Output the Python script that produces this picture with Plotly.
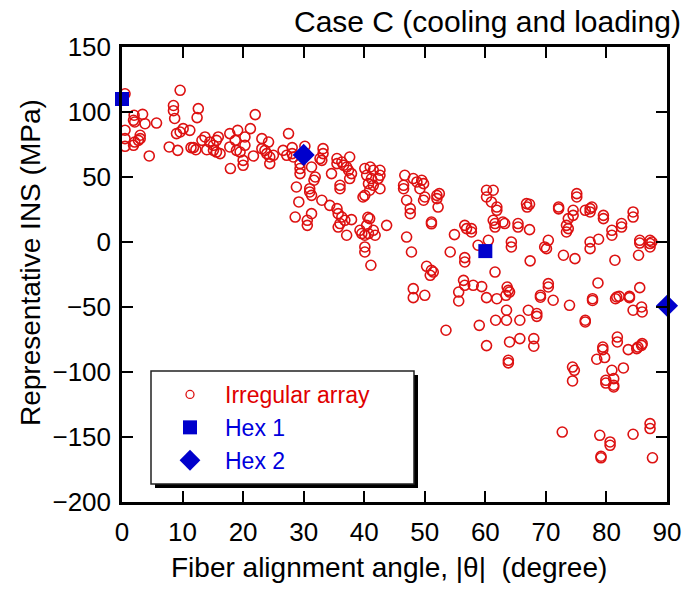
import plotly.graph_objects as go

# ---------------- data ----------------
irr_x = [0.5, 9.6, 8.5, 8.5, 12.6, 8.7, 12.4,
         2.0, 1.9, 2.1, 3.4, 3.8, 5.7,
         0.5, 0.5, 0.5,
         1.9, 2.7, 3.0, 3.0, 2.1,
         4.5, 7.8, 9.2,
         9.0, 9.6, 10.1, 11.2,
         11.4, 11.8, 12.2,
         13.2, 13.7, 14.0, 14.5, 15.1, 15.6, 15.9, 15.6, 16.2, 15.1,
         17.8, 19.1, 18.7, 20.3, 18.9, 19.5, 17.8, 20.3, 20.0, 20.0, 17.9,
         22.0, 21.2, 21.7,
         23.1, 24.2, 23.1, 23.6, 24.4, 25.0, 24.4, 23.9,
         27.5, 26.6, 27.2, 28.1, 28.3, 28.1,
         30.2,
         29.4, 29.4, 29.4, 28.8, 29.2, 28.6, 30.6, 30.6,
         33.2, 33.2, 32.7, 33.0, 31.3, 31.9, 31.7, 31.0, 31.0, 31.3, 31.3,
         35.5, 35.5, 36.3, 36.6, 37.1, 37.6, 37.4, 37.9, 37.6, 34.6, 36.0, 36.0,
         33.0, 34.3, 35.5, 35.7, 36.3, 36.8, 37.9, 36.0, 35.7, 37.1,
         40.1, 41.0, 41.5, 42.6, 40.4, 41.2, 42.3, 42.6, 40.7, 41.5, 42.6, 40.9, 40.1, 39.8,
         40.9, 40.4, 39.3, 39.6, 40.7, 41.5, 41.8, 40.1, 43.7, 40.6,
         40.1, 40.1, 41.1,
         47.0, 47.8,
         46.7, 46.5, 46.5, 47.0, 47.6, 47.6,
         48.1, 48.7, 49.5, 49.8, 49.2, 50.0, 49.8,
         51.1, 51.1,
         52.0, 52.4, 52.0, 52.2,
         54.9, 56.6, 56.9, 57.7, 57.7,
         54.2, 56.6, 56.6,
         50.3, 51.1, 50.9, 51.4,
         48.1, 48.1, 50.0,
         56.4, 56.6, 58.0, 59.4, 55.6, 55.6, 60.2,
         53.5, 59.0, 60.2,
         58.8,
         60.2, 60.2, 61.3, 61.0, 61.9, 61.9,
         61.3, 61.6, 61.6, 62.9, 63.2,
         60.5,
         64.3, 64.3,
         65.4, 65.4, 67.3,
         66.8, 67.3, 66.9,
         69.8, 70.4, 70.1,
         67.4,
         72.1, 72.1,
         73.7, 73.4, 73.4, 73.7, 74.5, 74.5,
         75.1, 75.1,
         72.9, 74.8,
         76.5, 77.3, 77.6, 77.3,
         77.3, 77.3, 78.7,
         79.5, 79.5,
         80.9, 80.9, 82.5, 82.5,
         84.4, 84.4,
         81.4,
         85.5, 85.5, 87.2, 87.2, 87.5, 87.2, 85.3,
         61.6,
         61.9, 63.4, 63.6, 63.8, 64.0,
         61.7, 63.5, 63.5, 65.7,
         64.0, 63.8, 63.8,
         65.7, 67.1, 68.5, 68.5, 68.0, 68.0,
         69.1, 69.1, 70.4, 70.4, 71.2, 73.9,
         76.5, 76.5,
         74.4, 74.7, 74.4,
         72.7,
         77.7, 77.7, 78.6,
         78.9, 79.1, 79.1, 80.6, 80.6,
         79.4, 79.4, 79.7, 78.4,
         80.9, 79.9, 79.9, 81.2, 81.2, 81.2,
         82.8,
         81.5, 81.7, 82.1, 83.8, 83.8,
         85.5,
         84.4, 85.8, 85.9,
         81.8, 81.8,
         83.6, 85.0, 85.2, 85.9, 85.8,
         84.4,
         87.2, 87.2,
         87.6]

irr_y = [114, 116.7, 105, 101, 102.6, 95, 95.7,
         97.5, 93.6, 92.3, 98.2, 91, 91.5,
         86, 79.5, 73.6,
         74.4, 78.2, 82.1, 79.5, 76.9,
         66.2, 73.1, 70.5,
         83.4, 84.6, 87.2, 85.9,
         72.6, 72.6, 71,
         78.2, 80.8, 71, 76.9, 74.4, 78.2, 80.8, 69.2, 68, 70.5,
         83.4, 85.9, 78.2, 80.8, 70.5, 69.2, 73.1, 74.4, 62.8, 59, 56.5,
         98, 87.2, 66.2,
         79.5, 76.9, 71.8, 70.5, 65.4, 66.7, 60.3, 68,
         83.4, 70.5, 66.7, 72.6, 65.4, 68,
         73.6,
         60.3, 56.5, 52.6, 42.3, 30.8, 19.2, 16.7, 12.8,
         71.8, 68, 64.2, 62.8, 57.7, 50, 47.5, 41, 38.5, 35.9, 21.8,
         64.2, 60.3, 61.5, 59, 57.7, 65.4, 55.2, 52.6, 48.8, 52.6, 43.6, 41,
         32.1, 28.2, 25.7, 21.8, 19.2, 16.7, 17.2, 14.2, 11.5, 5.2,
         56.5, 57.7, 55.2, 55.2, 51.3, 48.8, 48.8, 51.3, 44.9, 43.6, 41, 39.8, 35.9, 34.6,
         18, 12.8, 9, 6.5, 6.5, 9, 5.2, 5.2, 12.8, 19,
         -3.8, -7.7, -17.9,
         3.8, -7.7,
         51.3, 43.6, 41, 32.1, 25.7, 21.8,
         48.8, 46.2, 47.5, 44.9, 41, 34.6, 32.1,
         15.4, 14.0,
         35.9, 37.2, 33.4, 26.9,
         5.7, 12.8, 10.3, 10.3, 7.7,
         -7.7, -12.0, -15.4,
         -18.7, -21.8, -25.6, -23.1,
         -35.9, -42.8, -41,
         -29.5, -33.3, -33.3, -34.3, -38.5, -45.4, -42.8,
         -67.9, -64.1, -79.7,
         -2.5,
         39.8, 34.6, 39.8, 30.8, 26.9, 24.4,
         16.7, 14.2, 11.5, 15.4, 14.2,
         1.3,
         0, -3.8,
         14.2, 11.5, 9.5,
         29.5, 29, 26.9,
         -3.8, 1.3, -5.1,
         -14.5,
         26.9, 25.5,
         18, 12.8, 7.7, 10.3, 24.4, 20.5,
         37.2, 34.6,
         -10.2, -12.8,
         24.4, 25.7, 26.9, 23.1,
         0, -5.1, 2.1,
         20.5, 18,
         9, 5.2, 14.2, 11.5,
         23.1, 19.2,
         -14,
         1.3, -0.8, 1.3, -1.2, 0, -3.8, -10.2,
         -23.1,
         -43.6, -41, -34.6, -37.2, -38.5,
         -60.2, -52.5, -60.2, -60.2,
         -76.9, -91, -93,
         -74.3, -52.5, -55, -57.2, -74.3, -80.2,
         -41, -42.5, -32, -34.6, -44.8, -48.7,
         -60.2, -61.5,
         -96.2, -98.7, -106.9,
         -146.2,
         -43.6, -45, -31.5,
         -148.7, -164.8, -166, -153.8, -156.4,
         -80.8, -82.8, -88.9, -90.2,
         -98.7, -106.4, -108.5, -105.1, -110.2, -111.5,
         -96.9,
         -43.6, -42.3, -41.8, -41.8, -42.8,
         -35.1,
         -52.5, -50, -53.8,
         -73.1, -76.9,
         -82.8, -82, -80.8, -78.2, -79.5,
         -147.9,
         -139.7, -143.5,
         -166]

hex1_x = [0, 60]
hex1_y = [110, -7]
hex2_x = [30, 90]
hex2_y = [67, -49]

x_ticks = [0, 10, 20, 30, 40, 50, 60, 70, 80, 90]
y_ticks = [-200, -150, -100, -50, 0, 50, 100, 150]

RED = "#dd1111"
BLUE = "#0000cc"
FONT = "Liberation Sans, Arial, sans-serif"

# plot area in page pixels (page body margin is removed by the post script)
W, H = 686, 590
PL, PR, PT, PB = 122, 667, 47, 502
PW, PH = PR - PL, PB - PT


def px(xw):  # page x -> paper
    return (xw - PL) / PW


def py(yw):  # page y -> paper
    return (PB - yw) / PH


fig = go.Figure()

fig.add_trace(go.Scatter(
    x=irr_x, y=irr_y, mode="markers", showlegend=False,
    marker=dict(symbol="circle-open", size=10, color=RED, line=dict(width=1.6, color=RED)),
    cliponaxis=False))
fig.add_trace(go.Scatter(
    x=hex1_x, y=hex1_y, mode="markers", showlegend=False,
    marker=dict(symbol="square", size=14, color=BLUE), cliponaxis=False))
fig.add_trace(go.Scatter(
    x=hex2_x, y=hex2_y, mode="markers", showlegend=False,
    marker=dict(symbol="diamond", size=17, color=BLUE), cliponaxis=False))

# legend entries
fig.add_trace(go.Scatter(
    x=[None], y=[None], mode="markers",
    name="<span style='color:#e00000'>Irregular array</span>",
    marker=dict(symbol="circle-open", size=8, color=RED, line=dict(width=1.3, color=RED))))
fig.add_trace(go.Scatter(
    x=[None], y=[None], mode="markers",
    name="<span style='color:#0000dd'>Hex 1</span>",
    marker=dict(symbol="square", size=14, color=BLUE)))
fig.add_trace(go.Scatter(
    x=[None], y=[None], mode="markers",
    name="<span style='color:#0000dd'>Hex 2</span>",
    marker=dict(symbol="diamond", size=16, color=BLUE)))

axis_common = dict(
    showline=True, linecolor="black", linewidth=2.5, mirror="ticks",
    ticks="inside", ticklen=11, tickwidth=2, tickcolor="black",
    showgrid=False, zeroline=False, automargin=False,
    tickfont=dict(family=FONT, size=26, color="black"),
)

fig.update_xaxes(range=[0, 90], tickvals=x_ticks, ticklabelstandoff=5, **axis_common)
fig.update_yaxes(range=[-200, 150], tickvals=y_ticks, ticklabelstandoff=3, **axis_common)

# legend box with drop shadow
fig.add_shape(type="rect", xref="paper", yref="paper",
              x0=px(155), x1=px(418), y0=py(488), y1=py(375),
              fillcolor="black", line=dict(width=0), layer="above")
fig.add_shape(type="rect", xref="paper", yref="paper",
              x0=px(151), x1=px(414), y0=py(484), y1=py(371),
              fillcolor="white", line=dict(width=1.5, color="#222222"), layer="above")

fig.update_layout(
    width=W, height=H,
    margin=dict(l=PL, r=W - PR, t=PT, b=H - PB, autoexpand=False),
    paper_bgcolor="white", plot_bgcolor="white",
    font=dict(family=FONT, size=26, color="black"),
    showlegend=True,
    legend=dict(
        x=px(155), y=py(373), xanchor="left", yanchor="top",
        bgcolor="rgba(0,0,0,0)", borderwidth=0,
        font=dict(family=FONT, size=23),
        itemwidth=60, tracegroupgap=0,
    ),
    annotations=[
        dict(text="Case C (cooling and loading)", xref="paper", yref="paper",
             x=px(683), y=py(22), xanchor="right", yanchor="middle",
             showarrow=False, font=dict(family=FONT, size=30, color="black")),
        dict(text="Representative INS (MPa)", xref="paper", yref="paper",
             x=px(30), y=py(263), xanchor="center", yanchor="middle",
             textangle=-90, showarrow=False, font=dict(family=FONT, size=28, color="black")),
        dict(text="Fiber alignment angle, |θ|\u00a0\u00a0(degree)", xref="paper", yref="paper",
             x=px(389), y=py(567), xanchor="center", yanchor="middle",
             showarrow=False, font=dict(family=FONT, size=28, color="black")),
    ],
)

fig.write_html(
    "out.html",
    config={"displayModeBar": False},
    post_script="document.body.style.margin='0';document.body.style.padding='0';"
                "document.body.style.overflow='hidden';"
                "document.documentElement.style.overflow='hidden';",
)
